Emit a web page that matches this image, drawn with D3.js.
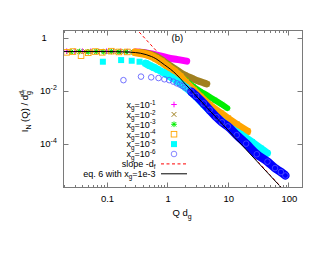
<!DOCTYPE html>
<html>
<head>
<meta charset="utf-8">
<script src="https://cdn.jsdelivr.net/npm/d3@7"></script>
<style>
  body { margin: 0; background: #fff; }
  text { font-family: "Liberation Sans", Arial, sans-serif; font-size: 9.5px; fill: #000; }
  .legend text { font-size: 9px; }
</style>
</head>
<body>
<svg width="330" height="255"></svg>
<script>
// x_g = 1e-1
const qg1 = [0.022, 0.03, 0.04, 0.055, 0.075, 0.1, 0.13, 0.17, 0.22, 0.3, 0.4, 0.5, 0.65, 0.8, 1.0, 1.3, 1.7, 2.1]
const ig1 = [0.31, 0.30, 0.31, 0.31, 0.30, 0.31, 0.31, 0.305, 0.30, 0.29, 0.275, 0.255, 0.225, 0.20, 0.178, 0.158, 0.142, 0.13]
// x_g = 1e-2
const qg2 = [0.024, 0.033, 0.045, 0.06, 0.08, 0.11, 0.15, 0.2, 0.27, 0.35, 0.45, 0.55, 0.65, 0.8, 1.0, 1.3, 1.64, 2.0, 2.5, 3.0, 3.5, 4.0, 4.5]
const ig2 = [0.30, 0.31, 0.30, 0.30, 0.31, 0.30, 0.30, 0.30, 0.29, 0.28, 0.26, 0.23, 0.20, 0.15, 0.105, 0.07, 0.049, 0.038, 0.030, 0.025, 0.022, 0.0198, 0.018]
// x_g = 1e-3
const qg3 = [0.026, 0.036, 0.05, 0.068, 0.09, 0.12, 0.16, 0.21, 0.28, 0.36, 0.45, 0.55, 0.65, 0.8, 1.0, 1.3, 1.64, 2.0, 2.7, 3.5, 4.5, 6, 8, 9.8]
const ig3 = [0.29, 0.30, 0.29, 0.30, 0.29, 0.30, 0.29, 0.29, 0.28, 0.265, 0.24, 0.21, 0.18, 0.135, 0.095, 0.06, 0.037, 0.025, 0.0142, 0.0095, 0.0068, 0.0045, 0.003, 0.0022]
// x_g = 1e-4
const qg4 = [0.022, 0.028, 0.038, 0.05, 0.065, 0.085, 0.12, 0.16, 0.22, 0.3, 0.4, 0.5, 0.65, 0.8, 1.0, 1.3, 1.64, 2.0, 2.7, 3.5, 5, 7.5, 10, 14, 20.8]
const ig4 = [0.28, 0.30, 0.21, 0.27, 0.30, 0.28, 0.31, 0.29, 0.29, 0.28, 0.25, 0.22, 0.165, 0.125, 0.085, 0.055, 0.034, 0.021, 0.0105, 0.0058, 0.0028, 0.0014, 0.00088, 0.00052, 0.00029]
// x_g = 1e-5
const qg5 = [0.087, 0.174, 0.26, 0.35, 0.44, 0.52, 0.61, 0.7, 0.85, 1.0, 1.2, 1.5, 2.0, 2.5, 3, 4, 5, 8, 12, 16, 25, 35, 44.6]
const ig5 = [0.124, 0.143, 0.135, 0.124, 0.108, 0.088, 0.074, 0.063, 0.05, 0.04, 0.031, 0.022, 0.0135, 0.0088, 0.006, 0.003, 0.0018, 0.00068, 0.00034, 0.00023, 0.000115, 0.000065, 0.000044]
// x_g = 1e-6
const qg6 = [0.19, 0.37, 0.545, 0.72, 0.9, 1.08, 1.26, 1.44, 1.62, 1.8, 2.0, 2.2, 2.5, 3, 4, 5, 6.5, 8, 10, 14, 20, 30, 45, 60, 75, 89]
const ig6 = [0.025, 0.034, 0.032, 0.030, 0.027, 0.025, 0.022, 0.019, 0.017, 0.015, 0.013, 0.0112, 0.0092, 0.0064, 0.0033, 0.0019, 0.001, 0.00064, 0.00045, 0.00021, 0.0001, 0.00004, 0.000021, 0.000012, 0.0000085, 0.0000063]
// eq. 6 with x_g = 1e-3
const qFit = [0.0195, 0.05, 0.1, 0.2, 0.3, 0.36, 0.45, 0.55, 0.65, 0.77, 0.9, 1.0, 1.27, 1.64, 2.0, 3, 5, 10, 20, 50, 100]
const iFit = [0.30, 0.30, 0.30, 0.29, 0.275, 0.26, 0.23, 0.195, 0.162, 0.124, 0.095, 0.08, 0.052, 0.029, 0.0175, 0.0064, 0.0018, 0.00033, 0.00006, 0.0000062, 0.00000113]
// slope -d_f
const qSlope = [0.3, 100]
const iSlope = [2.32, 0.00000114]

const legendExp = ["-1", "-2", "-3", "-4", "-5", "-6"]
const xTicks = [0.1, 1, 10, 100]
const xTickLabels = ["0.1", "1", "10", "100"]
const yTicks = [1, 1e-2, 1e-4]
const yTickExp = ["", "-2", "-4"]

const svg = d3.select("svg")
const pLeft = 63.5, pRight = 302.5, pTop = 30.5, pBottom = 187.5

const x = d3.scaleLog().domain([0.01952, 170.2]).range([pLeft, pRight])
const y = d3.scaleLog().domain([2.22e-6, 1.87]).range([pBottom, pTop])

// text with sub/superscripts: parts = [text, dy level, font size, dx]
function rich(t, parts) {
    let shift = 0
    parts.forEach(p => {
        const lvl = p[1] || 0
        const ts = t.append("tspan").attr("dy", lvl - shift).text(p[0])
        if (p[2]) ts.style("font-size", p[2] + "px")
        if (p[3]) ts.attr("dx", p[3])
        shift = lvl
    })
    return t
}

function marker(g, type, cx, cy, color) {
    const s = 2.8
    if (type == "plus") {
        g.append("path").attr("d", `M${cx - s},${cy}H${cx + s}M${cx},${cy - s}V${cy + s}`)
            .attr("stroke", color).attr("stroke-width", 1).attr("fill", "none")
    } else if (type == "cross") {
        g.append("path").attr("d", `M${cx - 2.4},${cy - 2.4}L${cx + 2.4},${cy + 2.4}M${cx - 2.4},${cy + 2.4}L${cx + 2.4},${cy - 2.4}`)
            .attr("stroke", color).attr("stroke-width", 1).attr("fill", "none")
    } else if (type == "star") {
        g.append("path").attr("d", `M${cx - s},${cy}H${cx + s}M${cx},${cy - s}V${cy + s}M${cx - 2.2},${cy - 2.2}L${cx + 2.2},${cy + 2.2}M${cx - 2.2},${cy + 2.2}L${cx + 2.2},${cy - 2.2}`)
            .attr("stroke", color).attr("stroke-width", 1).attr("fill", "none")
    } else if (type == "osquare") {
        g.append("rect").attr("x", cx - 2.8).attr("y", cy - 2.8).attr("width", 5.6).attr("height", 5.6)
            .attr("stroke", color).attr("stroke-width", 0.9).attr("fill", "none")
    } else if (type == "fsquare") {
        g.append("rect").attr("x", cx - 3).attr("y", cy - 3).attr("width", 6).attr("height", 6)
            .attr("fill", color)
    } else if (type == "ocircle") {
        g.append("circle").attr("cx", cx).attr("cy", cy).attr("r", 2.8)
            .attr("stroke", color).attr("stroke-width", 0.8).attr("fill", "none")
    }
}

const series = [
    {q: qg1, v: ig1, color: "#ff00ff", mark: "plus", band: 0.3, bw: 7},
    {q: qg2, v: ig2, color: "#a08020", mark: "cross", band: 0.3, bw: 7},
    {q: qg3, v: ig3, color: "#00ee00", mark: "star", band: 0.3, bw: 6},
    {q: qg4, v: ig4, color: "#ffa500", mark: "osquare", band: 0.3, bw: 8},
    {q: qg5, v: ig5, color: "#00ffff", mark: "fsquare", band: 0.44, bw: 7.5},
    {q: qg6, v: ig6, color: "#0000ff", mark: "ocircle", band: 2.5, bw: 8.5}
]

svg.append("defs").append("clipPath").attr("id", "plot")
    .append("rect").attr("x", pLeft).attr("y", pTop).attr("width", pRight - pLeft).attr("height", pBottom - pTop)

const plot = svg.append("g").attr("clip-path", "url(#plot)")

const line = d3.line().x(d => x(d[0])).y(d => y(d[1])).curve(d3.curveMonotoneX)

// slope line under the data
plot.append("path")
    .attr("d", line(qSlope.map((q, i) => [q, iSlope[i]])))
    .attr("fill", "none").attr("stroke", "#ff0000").attr("stroke-width", 1)
    .attr("stroke-dasharray", "3,2.5")

series.forEach(s => {
    const pts = s.q.map((q, i) => [q, s.v[i]])
    const bandPts = pts.filter(d => d[0] >= s.band)
    plot.append("path")
        .attr("d", line(bandPts))
        .attr("fill", "none")
        .attr("stroke", s.color)
        .attr("stroke-width", s.bw)
        .attr("stroke-linecap", "round")
        .attr("stroke-linejoin", "round")
    const mk = plot.append("g")
    const mc = s.mark == "ocircle" ? "#5050ff" : s.color
    pts.forEach(d => marker(mk, s.mark, x(d[0]), y(d[1]), mc))
})

// eq. 6 curve
plot.append("path")
    .attr("d", line(qFit.map((q, i) => [q, iFit[i]])))
    .attr("fill", "none").attr("stroke", "#000").attr("stroke-width", 1)

// frame and ticks
const axisColor = "#7a7a7a"
svg.append("rect")
    .attr("x", pLeft).attr("y", pTop).attr("width", pRight - pLeft).attr("height", pBottom - pTop)
    .attr("fill", "none").attr("stroke", axisColor).attr("stroke-width", 1)

const ticks = svg.append("g").attr("stroke", axisColor).attr("stroke-width", 1)
let minor = []
for (let e = -2; e <= 2; e++) {
    for (let m = 2; m <= 9; m++) {
        const v = m * Math.pow(10, e)
        if (v > x.domain()[0] && v < x.domain()[1]) minor.push(v)
    }
}
minor.forEach(v => {
    const px = Math.round(x(v)) + 0.5
    ticks.append("line").attr("x1", px).attr("x2", px).attr("y1", pBottom).attr("y2", pBottom - 2.5)
    ticks.append("line").attr("x1", px).attr("x2", px).attr("y1", pTop).attr("y2", pTop + 2.5)
})
xTicks.forEach((v, i) => {
    const px = Math.round(x(v)) + 0.5
    ticks.append("line").attr("x1", px).attr("x2", px).attr("y1", pBottom).attr("y2", pBottom - 5)
    ticks.append("line").attr("x1", px).attr("x2", px).attr("y1", pTop).attr("y2", pTop + 5)
    svg.append("text").attr("x", x(v) + 1).attr("y", 202).attr("text-anchor", "middle").text(xTickLabels[i])
})
yTicks.forEach((v, i) => {
    const py = Math.round(y(v)) + 0.5
    ticks.append("line").attr("x1", pLeft).attr("x2", pLeft + 5).attr("y1", py).attr("y2", py)
    ticks.append("line").attr("x1", pRight).attr("x2", pRight - 5).attr("y1", py).attr("y2", py)
    const t = svg.append("text").attr("y", y(v) + 3.4)
    if (yTickExp[i] == "") {
        t.attr("x", 41.5).text("1")
    } else {
        t.attr("x", 40)
        rich(t, [["10"], [yTickExp[i], -4, 7]])
    }
})

// axis labels
rich(svg.append("text").attr("x", 182).attr("y", 216).attr("text-anchor", "middle"),
    [["Q d"], ["g", 3, 7]])

rich(svg.append("text").attr("text-anchor", "middle")
        .attr("transform", "translate(28,111) rotate(-90)"),
    [["I"], ["N", 3, 7], [" (Q) / d", 0], ["g", 3, 7], ["d", -4, 7, -4], ["f", -2, 5]])

svg.append("text").attr("x", 171.5).attr("y", 41).text("(b)")

// legend
const legend = svg.append("g").attr("class", "legend")
const rowY = i => 104.5 + 9.9 * i
series.forEach((s, i) => {
    rich(legend.append("text").attr("x", 155.5).attr("y", rowY(i) + 3.3).attr("text-anchor", "end"),
        [["x"], ["g", 2.2, 6.3], ["=10", 0], [legendExp[i], -3.2, 6.3]])
    marker(legend, s.mark, 174, rowY(i), s.mark == "ocircle" ? "#6a6aff" : s.color)
})
rich(legend.append("text").attr("x", 155.5).attr("y", rowY(6) + 3.3).attr("text-anchor", "end"),
    [["slope -d"], ["f", 2.2, 6.3]])
legend.append("line").attr("x1", 161).attr("x2", 187).attr("y1", rowY(6)).attr("y2", rowY(6))
    .attr("stroke", "#ff0000").attr("stroke-width", 1).attr("stroke-dasharray", "3,2.5")
rich(legend.append("text").attr("x", 155.5).attr("y", rowY(7) + 3.3).attr("text-anchor", "end"),
    [["eq. 6 with x"], ["g", 2.2, 6.3], ["=1e-3", 0]])
legend.append("line").attr("x1", 161).attr("x2", 187).attr("y1", rowY(7)).attr("y2", rowY(7))
    .attr("stroke", "#000").attr("stroke-width", 1)
</script>
</body>
</html>
